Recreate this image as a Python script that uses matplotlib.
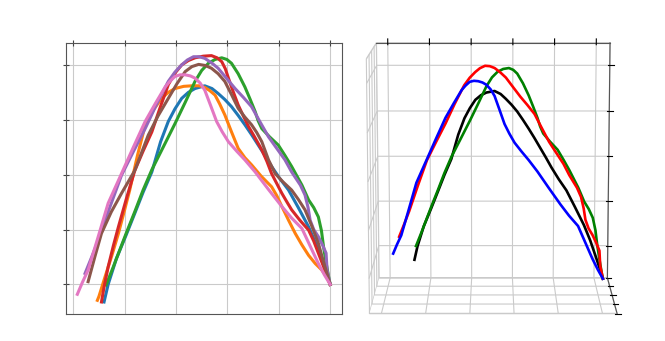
import matplotlib
matplotlib.use("Agg")
import matplotlib.pyplot as plt

x_blue = [0.60, 0.68, 0.84, 1.03, 1.20, 1.36, 1.53, 1.70, 1.85, 1.98, 2.11, 2.24, 2.37, 2.56, 2.70, 2.82, 2.95, 3.08, 3.21, 3.34, 3.47, 3.60, 3.73, 3.86, 4.02, 4.19, 4.38, 4.58, 4.72, 4.84, 4.93, 5.00]
z_blue = [-0.32, 0.00, 0.47, 0.90, 1.30, 1.68, 2.05, 2.60, 2.97, 3.20, 3.39, 3.50, 3.57, 3.62, 3.57, 3.48, 3.37, 3.24, 3.08, 2.91, 2.73, 2.54, 2.35, 2.15, 1.93, 1.72, 1.40, 1.05, 0.75, 0.44, 0.20, 0.00]
x_orange = [0.47, 0.50, 0.62, 0.75, 0.88, 0.99, 1.10, 1.25, 1.40, 1.56, 1.72, 1.85, 1.98, 2.15, 2.31, 2.45, 2.56, 2.66, 2.76, 2.85, 2.95, 3.08, 3.21, 3.34, 3.47, 3.66, 3.86, 3.96, 4.06, 4.19, 4.32, 4.45, 4.58, 4.71, 4.84, 4.93, 5.00]
z_orange = [-0.29, -0.22, 0.14, 0.52, 0.93, 1.32, 1.72, 2.35, 2.90, 3.18, 3.39, 3.50, 3.57, 3.61, 3.62, 3.62, 3.59, 3.53, 3.45, 3.29, 3.09, 2.78, 2.48, 2.31, 2.18, 1.97, 1.78, 1.62, 1.42, 1.17, 0.93, 0.72, 0.53, 0.38, 0.26, 0.14, 0.00]
x_green = [0.64, 0.78, 1.03, 1.20, 1.36, 1.53, 1.75, 1.98, 2.18, 2.37, 2.50, 2.63, 2.76, 2.89, 2.99, 3.08, 3.21, 3.34, 3.44, 3.54, 3.60, 3.67, 3.82, 3.99, 4.12, 4.25, 4.35, 4.45, 4.58, 4.68, 4.77, 4.83, 4.87, 4.92, 4.97, 5.00]
z_green = [-0.01, 0.32, 0.93, 1.33, 1.72, 2.09, 2.50, 2.93, 3.32, 3.70, 3.90, 4.03, 4.10, 4.13, 4.10, 4.03, 3.84, 3.60, 3.38, 3.15, 2.98, 2.84, 2.69, 2.54, 2.35, 2.15, 1.98, 1.81, 1.54, 1.40, 1.23, 0.98, 0.69, 0.40, 0.14, 0.00]
x_red = [0.55, 0.60, 0.68, 0.78, 0.88, 1.04, 1.20, 1.36, 1.53, 1.69, 1.85, 1.98, 2.11, 2.24, 2.37, 2.53, 2.69, 2.80, 2.89, 2.96, 3.02, 3.11, 3.21, 3.31, 3.41, 3.54, 3.67, 3.77, 3.86, 3.96, 4.06, 4.16, 4.25, 4.41, 4.58, 4.68, 4.77, 4.89, 5.00]
z_red = [-0.32, -0.05, 0.32, 0.70, 1.05, 1.58, 2.08, 2.43, 2.78, 3.22, 3.64, 3.85, 4.00, 4.08, 4.13, 4.16, 4.17, 4.13, 4.06, 3.93, 3.76, 3.52, 3.27, 3.07, 2.88, 2.67, 2.45, 2.24, 2.02, 1.84, 1.66, 1.50, 1.36, 1.17, 0.99, 0.79, 0.57, 0.28, 0.00]
x_purple = [0.23, 0.36, 0.49, 0.71, 0.94, 1.17, 1.40, 1.62, 1.85, 1.98, 2.11, 2.22, 2.34, 2.45, 2.56, 2.69, 2.82, 2.98, 3.15, 3.31, 3.47, 3.63, 3.80, 3.96, 4.12, 4.25, 4.42, 4.51, 4.57, 4.61, 4.68, 4.77, 4.85, 4.92, 4.94, 5.00]
z_purple = [0.20, 0.50, 0.81, 1.40, 1.99, 2.42, 2.84, 3.28, 3.70, 3.87, 4.00, 4.09, 4.15, 4.15, 4.12, 4.04, 3.94, 3.76, 3.57, 3.41, 3.24, 2.97, 2.69, 2.48, 2.27, 2.05, 1.81, 1.63, 1.40, 1.17, 1.00, 0.87, 0.72, 0.57, 0.26, 0.00]
x_brown = [0.29, 0.42, 0.55, 0.74, 0.94, 1.07, 1.20, 1.33, 1.46, 1.65, 1.85, 2.02, 2.18, 2.31, 2.44, 2.57, 2.69, 2.82, 2.95, 3.08, 3.21, 3.34, 3.47, 3.57, 3.67, 3.80, 3.93, 4.08, 4.25, 4.38, 4.51, 4.64, 4.77, 4.88, 5.00]
z_brown = [0.05, 0.50, 0.93, 1.32, 1.66, 1.87, 2.08, 2.40, 2.72, 3.07, 3.39, 3.66, 3.88, 3.97, 4.01, 3.99, 3.94, 3.84, 3.70, 3.46, 3.21, 3.05, 2.91, 2.77, 2.60, 2.27, 2.02, 1.87, 1.72, 1.55, 1.36, 1.07, 0.75, 0.38, 0.00]
x_pink = [0.08, 0.18, 0.29, 0.48, 0.68, 0.81, 0.94, 1.17, 1.40, 1.60, 1.79, 1.88, 1.98, 2.08, 2.18, 2.28, 2.37, 2.47, 2.56, 2.67, 2.79, 2.90, 3.02, 3.18, 3.34, 3.54, 3.80, 4.06, 4.25, 4.45, 4.61, 4.77, 4.89, 5.00]
z_pink = [-0.18, 0.04, 0.26, 0.85, 1.48, 1.75, 2.02, 2.50, 2.97, 3.30, 3.60, 3.70, 3.79, 3.82, 3.82, 3.80, 3.76, 3.67, 3.54, 3.27, 2.97, 2.78, 2.60, 2.43, 2.27, 2.05, 1.73, 1.42, 1.21, 1.02, 0.70, 0.38, 0.17, 0.00]

# profundidade das curvas no grafico 3D
y_blue = [4.00, 3.93, 3.78, 3.61, 3.45, 3.31, 3.15, 3.00, 2.86, 2.75, 2.63, 2.51, 2.39, 2.22, 2.09, 1.98, 1.86, 1.75, 1.63, 1.51, 1.39, 1.27, 1.15, 1.04, 0.89, 0.74, 0.56, 0.38, 0.25, 0.15, 0.06, 0.00]
y_green = [4.00, 3.86, 3.63, 3.48, 3.33, 3.18, 2.97, 2.76, 2.58, 2.41, 2.29, 2.17, 2.05, 1.93, 1.84, 1.76, 1.64, 1.52, 1.43, 1.34, 1.28, 1.22, 1.08, 0.92, 0.81, 0.69, 0.59, 0.50, 0.38, 0.29, 0.21, 0.16, 0.12, 0.07, 0.03, 0.00]
y_purple = [4.00, 3.89, 3.78, 3.60, 3.40, 3.21, 3.02, 2.83, 2.64, 2.53, 2.42, 2.33, 2.23, 2.14, 2.05, 1.94, 1.83, 1.69, 1.55, 1.42, 1.28, 1.15, 1.01, 0.87, 0.74, 0.63, 0.49, 0.41, 0.36, 0.33, 0.27, 0.19, 0.13, 0.07, 0.05, 0.00]
y_pink = [4.00, 3.92, 3.83, 3.67, 3.51, 3.41, 3.30, 3.11, 2.93, 2.76, 2.61, 2.54, 2.46, 2.37, 2.29, 2.21, 2.14, 2.06, 1.98, 1.89, 1.80, 1.71, 1.61, 1.48, 1.35, 1.19, 0.98, 0.76, 0.61, 0.45, 0.32, 0.19, 0.09, 0.00]

x_ticks = [0, 1, 2, 3, 4, 5]
y_ticks = [0, 1, 2, 3, 4]
z_ticks = [0, 1, 2, 3, 4]

plt.rcParams["grid.color"] = "#cacaca"
plt.rcParams["grid.linewidth"] = 0.8
plt.rcParams["axes.edgecolor"] = "#555555"

fig = plt.figure(figsize=(6.65, 3.41), dpi=100)

# Esquerda 2D
ax = fig.add_axes([65.5 / 665, 1 - 313.5 / 341, 276.5 / 665, 270.5 / 341])
curvas = [(x_blue, z_blue), (x_orange, z_orange), (x_green, z_green), (x_red, z_red),
          (x_purple, z_purple), (x_brown, z_brown), (x_pink, z_pink)]
for cx, cz in curvas:
    ax.plot(cx, cz, lw=2.2, solid_joinstyle="round")
ax.set_xlim(-0.15, 5.23)
ax.set_ylim(-0.53, 4.4)
ax.set_xticks(x_ticks)
ax.set_yticks(z_ticks)
ax.set_xticklabels([])
ax.set_yticklabels([])
ax.grid(True)
ax.set_axisbelow(True)
ax.xaxis.tick_top()
ax.tick_params(direction="inout", length=5, width=0.8, color="#444444")

# Direita 3D
ax3 = fig.add_axes([0.485, -0.144, 0.50, 1.24], projection="3d")
ax3.patch.set_visible(False)
ax3.plot(x_blue, y_blue, z_blue, color="black", lw=1.9, solid_joinstyle="round")
ax3.plot(x_green, y_green, z_green, color="green", lw=1.9, solid_joinstyle="round")
ax3.plot(x_purple, y_purple, z_purple, color="red", lw=1.9, solid_joinstyle="round")
ax3.plot(x_pink, y_pink, z_pink, color="blue", lw=1.9, solid_joinstyle="round")
ax3.view_init(elev=10, azim=-90)
ax3.set_box_aspect((4, 2.5, 4.13), zoom=1.1)
ax3.set_xlim(-0.27, 5.33, view_margin=0)
ax3.set_ylim(0, 4, view_margin=0)
ax3.set_zlim(-0.73, 4.49, view_margin=0)
ax3.set_xticks(x_ticks)
ax3.set_yticks(y_ticks)
ax3.set_zticks(z_ticks)
ax3.set_xticklabels([])
ax3.set_yticklabels([])
ax3.set_zticklabels([])
ax3.xaxis.set_ticks_position("upper")
for eixo in [ax3.xaxis, ax3.yaxis, ax3.zaxis]:
    eixo.set_pane_color((1, 1, 1, 1))
    eixo.pane.set_edgecolor("#cacaca")

fig.savefig("out.png", dpi=100)
